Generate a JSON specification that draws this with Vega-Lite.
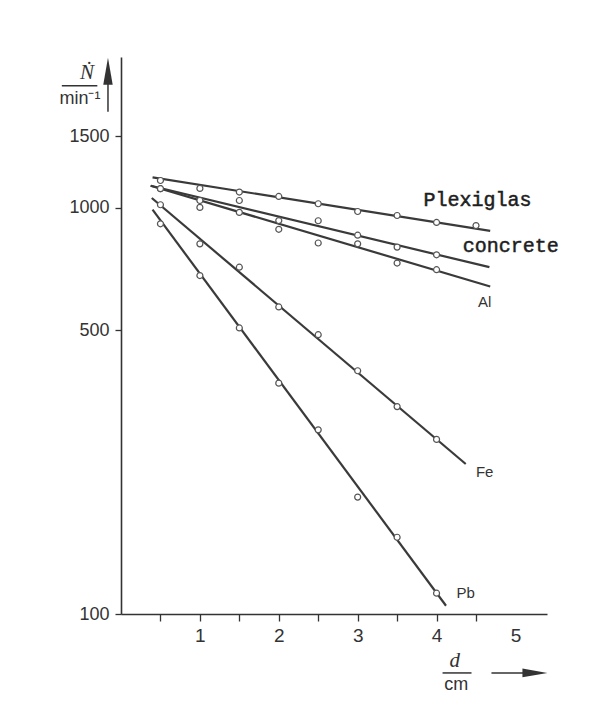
{
  "$schema": "https://vega.github.io/schema/vega-lite/v6.json",
  "width": 426,
  "height": 557,
  "autosize": {"type": "none"},
  "padding": {"left": 121, "top": 57, "right": 57, "bottom": 106},
  "background": "white",
  "config": {
    "view": {"stroke": null},
    "axis": {
      "grid": false,
      "domainColor": "#333",
      "domainWidth": 1.6,
      "tickColor": "#333",
      "tickWidth": 1.3,
      "labelColor": "#333",
      "labelFont": "Liberation Sans",
      "labelFontSize": 18
    }
  },
  "datasets": {
    "lines": [
      {"material": "Plexiglas", "d": 0.40, "N": 1188},
      {"material": "Plexiglas", "d": 4.68, "N": 877},
      {"material": "concrete", "d": 0.376, "N": 1133},
      {"material": "concrete", "d": 4.67, "N": 714},
      {"material": "Al", "d": 0.376, "N": 1133},
      {"material": "Al", "d": 4.68, "N": 640},
      {"material": "Fe", "d": 0.39, "N": 1057},
      {"material": "Fe", "d": 4.37, "N": 234},
      {"material": "Pb", "d": 0.40, "N": 989},
      {"material": "Pb", "d": 4.12, "N": 104.8}
    ],
    "points": [
      {"material": "Plexiglas", "d": 0.5, "N": 1167},
      {"material": "Plexiglas", "d": 1.0, "N": 1116},
      {"material": "Plexiglas", "d": 1.5, "N": 1093},
      {"material": "Plexiglas", "d": 2.0, "N": 1066},
      {"material": "Plexiglas", "d": 2.5, "N": 1023},
      {"material": "Plexiglas", "d": 3.0, "N": 979},
      {"material": "Plexiglas", "d": 3.5, "N": 957},
      {"material": "Plexiglas", "d": 4.0, "N": 920},
      {"material": "Plexiglas", "d": 4.5, "N": 904},
      {"material": "concrete", "d": 0.5, "N": 1114},
      {"material": "concrete", "d": 1.0, "N": 1042},
      {"material": "concrete", "d": 1.5, "N": 1042},
      {"material": "concrete", "d": 2.0, "N": 930},
      {"material": "concrete", "d": 2.5, "N": 929},
      {"material": "concrete", "d": 3.0, "N": 856},
      {"material": "concrete", "d": 3.5, "N": 800},
      {"material": "concrete", "d": 4.0, "N": 766},
      {"material": "Al", "d": 0.5, "N": 1114},
      {"material": "Al", "d": 1.0, "N": 1002},
      {"material": "Al", "d": 1.5, "N": 974},
      {"material": "Al", "d": 2.0, "N": 885},
      {"material": "Al", "d": 2.5, "N": 819},
      {"material": "Al", "d": 3.0, "N": 815},
      {"material": "Al", "d": 3.5, "N": 731},
      {"material": "Al", "d": 4.0, "N": 704},
      {"material": "Fe", "d": 0.5, "N": 1017},
      {"material": "Fe", "d": 1.0, "N": 815},
      {"material": "Fe", "d": 1.5, "N": 714},
      {"material": "Fe", "d": 2.0, "N": 570},
      {"material": "Fe", "d": 2.5, "N": 487},
      {"material": "Fe", "d": 3.0, "N": 397},
      {"material": "Fe", "d": 3.5, "N": 324},
      {"material": "Fe", "d": 4.0, "N": 269},
      {"material": "Pb", "d": 0.5, "N": 913},
      {"material": "Pb", "d": 1.0, "N": 681},
      {"material": "Pb", "d": 1.5, "N": 506},
      {"material": "Pb", "d": 2.0, "N": 370},
      {"material": "Pb", "d": 2.5, "N": 284},
      {"material": "Pb", "d": 3.0, "N": 194},
      {"material": "Pb", "d": 3.5, "N": 154.5},
      {"material": "Pb", "d": 4.0, "N": 112.5}
    ],
    "monoLabels": [
      {"text": "Plexiglas", "d": 4.52, "N": 1046},
      {"text": "concrete", "d": 4.94, "N": 806}
    ],
    "sansLabels": [
      {"text": "Al", "d": 4.61, "N": 587},
      {"text": "Fe", "d": 4.61, "N": 224},
      {"text": "Pb", "d": 4.37, "N": 112.6}
    ],
    "italicTitles": [
      {"text": "Ṅ", "d": -0.43, "N": 2150},
      {"text": "d", "d": 4.23, "N": 76.5}
    ],
    "unitTitles": [
      {"text": "min⁻¹", "d": -0.52, "N": 1850},
      {"text": "cm", "d": 4.25, "N": 67.0}
    ],
    "bars": [
      {"part": "y fraction bar", "d": -0.75, "d2": -0.30, "N": 1998, "N2": 1998},
      {"part": "x fraction bar", "d": 4.076, "d2": 4.443, "N": 71.6, "N2": 71.6},
      {"part": "y arrow shaft", "d": -0.165, "d2": -0.165, "N": 1724, "N2": 2200},
      {"part": "x arrow shaft", "d": 4.696, "d2": 5.3, "N": 71.6, "N2": 71.6}
    ],
    "upHead": [{"d": -0.165, "N": 2169}],
    "rightHead": [{"d": 5.247, "N": 71.6}]
  },
  "layer": [
    {
      "data": {"name": "lines"},
      "mark": {"type": "line", "color": "#3a3a3a", "strokeWidth": 2.2},
      "encoding": {
        "x": {
          "field": "d", "type": "quantitative", "title": null,
          "scale": {"domain": [0, 5.4], "nice": false, "zero": false},
          "axis": {
            "values": [0.5, 1, 1.5, 2, 2.5, 3, 3.5, 4, 4.5, 5],
            "labelExpr": "datum.value % 1 == 0 ? format(datum.value, 'd') : ''",
            "tickOpacity": {"expr": "datum.value == 5 ? 0 : 1"},
            "tickSize": 7,
            "labelPadding": 5,
            "labelFontSize": 19,
            "labelFlush": false
          }
        },
        "y": {
          "field": "N", "type": "quantitative", "title": null,
          "scale": {"type": "log", "domain": [100, 2350], "nice": false},
          "axis": {
            "values": [100, 500, 1000, 1500],
            "format": "d",
            "tickSize": 6,
            "labelPadding": 6,
            "labelFlush": false
          }
        },
        "detail": {"field": "material"}
      }
    },
    {
      "data": {"name": "points"},
      "mark": {"type": "point", "shape": "circle", "filled": true, "fill": "white", "stroke": "#555", "strokeWidth": 1.2, "size": 36, "opacity": 1},
      "encoding": {
        "x": {"field": "d", "type": "quantitative", "title": null},
        "y": {"field": "N", "type": "quantitative", "title": null}
      }
    },
    {
      "data": {"name": "monoLabels"},
      "mark": {"type": "text", "font": "Liberation Mono", "fontSize": 20, "color": "#1e1e1e", "stroke": "#1e1e1e", "strokeWidth": 0.5, "align": "center", "baseline": "middle"},
      "encoding": {
        "x": {"field": "d", "type": "quantitative", "title": null},
        "y": {"field": "N", "type": "quantitative", "title": null},
        "text": {"field": "text"}
      }
    },
    {
      "data": {"name": "sansLabels"},
      "mark": {"type": "text", "font": "Liberation Sans", "fontSize": 15, "color": "#333", "align": "center", "baseline": "middle"},
      "encoding": {
        "x": {"field": "d", "type": "quantitative", "title": null},
        "y": {"field": "N", "type": "quantitative", "title": null},
        "text": {"field": "text"}
      }
    },
    {
      "data": {"name": "italicTitles"},
      "mark": {"type": "text", "font": "Liberation Serif", "fontStyle": "italic", "fontSize": 21, "color": "#333", "align": "center", "baseline": "middle"},
      "encoding": {
        "x": {"field": "d", "type": "quantitative", "title": null},
        "y": {"field": "N", "type": "quantitative", "title": null},
        "text": {"field": "text"}
      }
    },
    {
      "data": {"name": "unitTitles"},
      "mark": {"type": "text", "font": "Liberation Sans", "fontSize": 18, "color": "#333", "align": "center", "baseline": "middle"},
      "encoding": {
        "x": {"field": "d", "type": "quantitative", "title": null},
        "y": {"field": "N", "type": "quantitative", "title": null},
        "text": {"field": "text"}
      }
    },
    {
      "data": {"name": "bars"},
      "mark": {"type": "rule", "color": "#333", "strokeWidth": 1.5},
      "encoding": {
        "x": {"field": "d", "type": "quantitative", "title": null},
        "x2": {"field": "d2"},
        "y": {"field": "N", "type": "quantitative", "title": null},
        "y2": {"field": "N2"}
      }
    },
    {
      "data": {"name": "upHead"},
      "mark": {"type": "point", "shape": "M0,-1L0.35,1L-0.35,1Z", "filled": true, "color": "#333", "size": 729, "opacity": 1},
      "encoding": {
        "x": {"field": "d", "type": "quantitative", "title": null},
        "y": {"field": "N", "type": "quantitative", "title": null}
      }
    },
    {
      "data": {"name": "rightHead"},
      "mark": {"type": "point", "shape": "M1,0L-1,-0.35L-1,0.35Z", "filled": true, "color": "#333", "size": 625, "opacity": 1},
      "encoding": {
        "x": {"field": "d", "type": "quantitative", "title": null},
        "y": {"field": "N", "type": "quantitative", "title": null}
      }
    }
  ]
}
